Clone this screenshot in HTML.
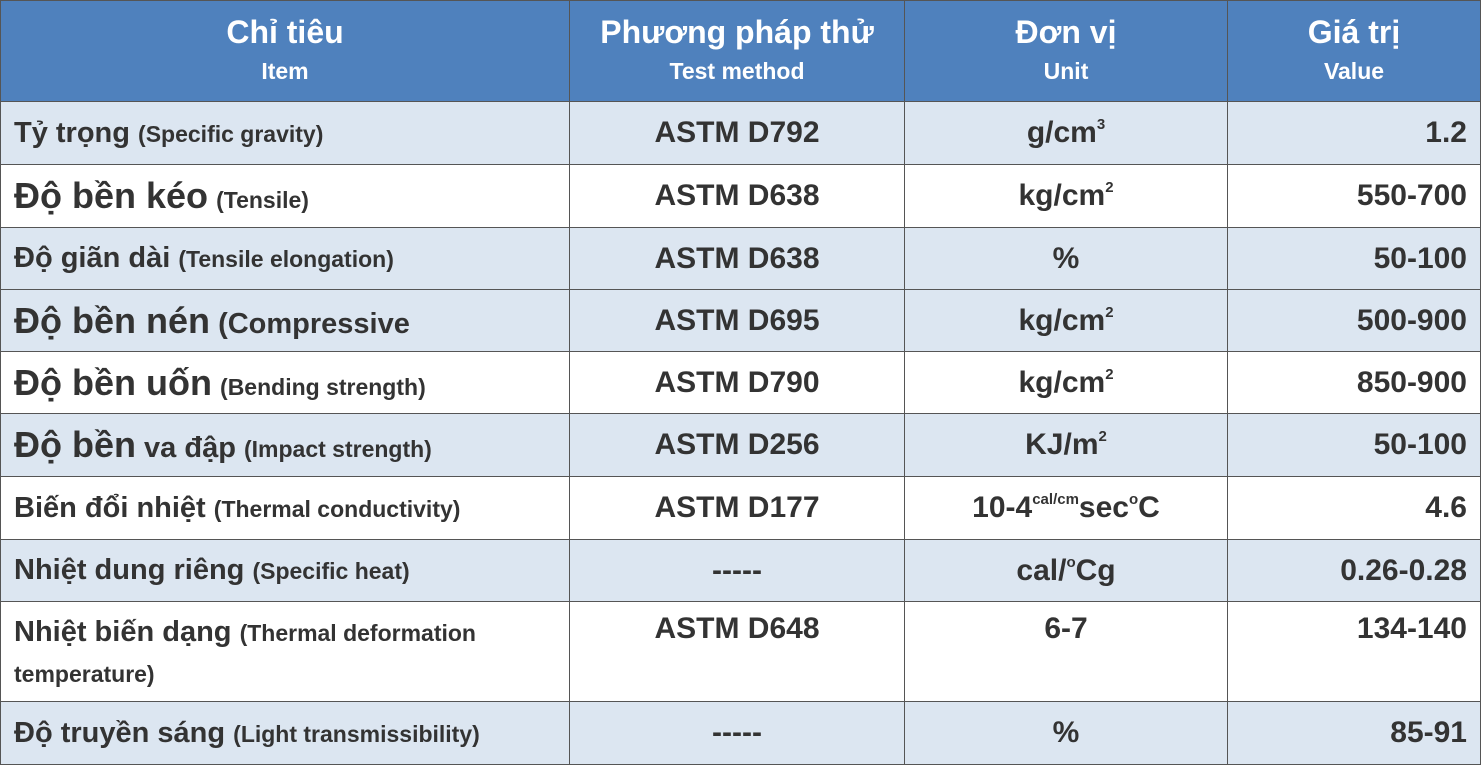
<!DOCTYPE html>
<html><head><meta charset="utf-8"><style>
body{margin:0;width:1481px;height:765px;overflow:hidden;background:#fff;font-family:"Liberation Sans Narrow","Liberation Sans",sans-serif;font-weight:bold;color:#333}
.c{position:absolute;box-sizing:border-box;border-right:1.5px solid #555;border-bottom:1.5px solid #555;display:flex;align-items:center;white-space:nowrap}
.h{background:#4f81bd;color:#fff;flex-direction:column;justify-content:center;text-align:center}
.h .a{font-size:32px;line-height:40px}.h .b{font-size:23px;line-height:38px}
.l{padding-left:13px;font-size:29px}.l small{font-size:23px}.l .big{font-size:36px}
.m{justify-content:center;font-size:30px}.r{justify-content:flex-end;padding-right:13px;font-size:30px}
sup{font-size:15px;vertical-align:13px;line-height:0}
</style></head><body>
<div id="t"></div>
<script>
const xs=[0,570,905,1228,1481];
const ys=[0,102,165,228,290,352,414,477,540,602,702,765];
const light=[1,0,1,1,0,1,0,1,0,1];
const heads=[["Chỉ tiêu","Item"],["Phương pháp thử","Test method"],["Đơn vị","Unit"],["Giá trị","Value"]];
const rows=[
['Tỷ trọng <small>(Specific gravity)</small>','ASTM D792','g/cm<sup>3</sup>','1.2'],
['<span class="big">Độ bền kéo</span> <small>(Tensile)</small>','ASTM D638','kg/cm<sup>2</sup>','550-700'],
['Độ giãn dài <small>(Tensile elongation)</small>','ASTM D638','%','50-100'],
['<span class="big">Độ bền nén</span> <span style="font-size:29px">(Compressive</span>','ASTM D695','kg/cm<sup>2</sup>','500-900'],
['<span class="big">Độ bền uốn</span> <small>(Bending strength)</small>','ASTM D790','kg/cm<sup>2</sup>','850-900'],
['<span class="big">Độ bền</span> va đập <small>(Impact strength)</small>','ASTM D256','KJ/m<sup>2</sup>','50-100'],
['Biến đổi nhiệt <small>(Thermal conductivity)</small>','ASTM D177','10-4<sup>cal/cm</sup>sec<sup>o</sup>C','4.6'],
['Nhiệt dung riêng <small>(Specific heat)</small>','-----','cal/<sup>o</sup>Cg','0.26-0.28'],
['<div style="line-height:40px">Nhiệt biến dạng <small>(Thermal deformation</small><br><small>temperature)</small></div>','ASTM D648','6-7','134-140'],
['Độ truyền sáng <small>(Light transmissibility)</small>','-----','%','85-91']];
const t=document.getElementById('t');
const names=['item','test-method','unit','value'];
heads.forEach((h,i)=>{const d=document.createElement('div');d.className='c h';
d.style.cssText=`left:${xs[i]}px;top:0;width:${xs[i+1]-xs[i]}px;height:${ys[1]}px;`+(i==0?'border-left:1.5px solid #555;':'')+'border-top:1.5px solid #555';
d.innerHTML=`<div class="a">${h[0]}</div><div class="b">${h[1]}</div>`;

t.appendChild(d);});
rows.forEach((r,ri)=>{r.forEach((v,ci)=>{const d=document.createElement('div');
d.className='c '+(ci==0?'l':ci==3?'r':'m');
const top=ys[ri+1],h=ys[ri+2]-ys[ri+1];
d.style.cssText=`left:${xs[ci]}px;top:${top}px;width:${xs[ci+1]-xs[ci]}px;height:${h}px;background:${light[ri]?'#dce6f1':'#fff'};`+(ci==0?'border-left:1.5px solid #555;':'')+(ri==8?'align-items:flex-start;padding-top:10px;':'');
d.innerHTML='<span>'+v+'</span>';

t.appendChild(d);});});
</script>
</body></html>
